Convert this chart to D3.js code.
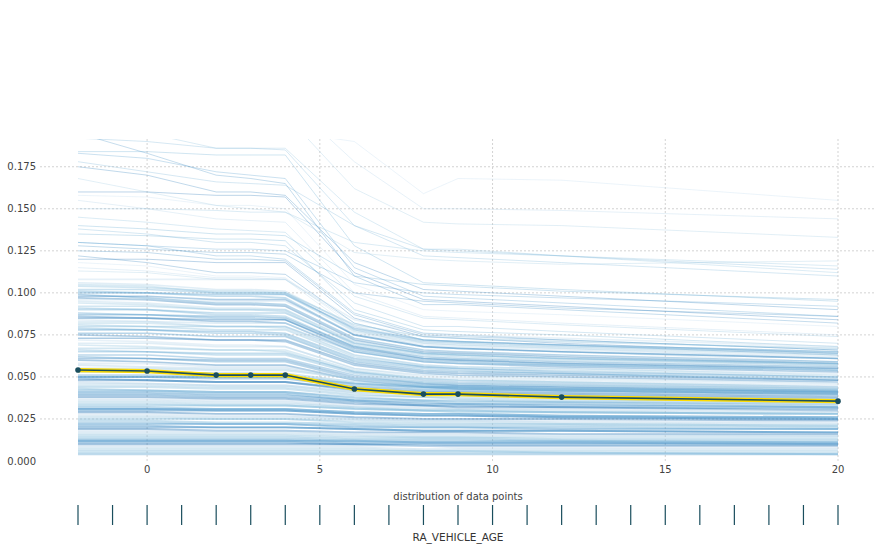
<!DOCTYPE html>
<html>
<head>
<meta charset="utf-8">
<script src="https://cdn.jsdelivr.net/npm/d3@7"></script>
<style>
  body { margin: 0; background: #fff; }
  text { font-family: "DejaVu Sans", sans-serif; }
</style>
</head>
<body>
<svg id="chart" width="890" height="549"></svg>
<script>
// grid points of the feature, and the averaged (PDP) line
var gridX = [-2, 0, 2, 3, 4, 6, 8, 9, 12, 20];
var pdpValues = [0.0541, 0.0535, 0.0511, 0.0511, 0.0511, 0.0428, 0.0398, 0.0398, 0.0380, 0.0356];

// individual ICE lines, one value per grid point (approximate)
var upperLines = [
    [.240,.215,.200,.198,.196,.190,.159,.168,.167,.155],
    [.260,.240,.222,.220,.216,.178,.150,.150,.149,.144],
    [.250,.232,.212,.210,.206,.162,.142,.141,.140,.133],
    [.205,.195,.186,.186,.186,.148,.126,.126,.122,.112],
    [.192,.190,.186,.186,.185,.140,.122,.121,.118,.110],
    [.184,.184,.182,.182,.182,.128,.106,.105,.102,.095],
    [.183,.180,.172,.170,.168,.115,.098,.097,.094,.086],
    [.195,.183,.170,.168,.165,.110,.093,.093,.090,.082],
    [.175,.170,.160,.160,.158,.118,.102,.101,.098,.090],
    [.160,.160,.158,.158,.157,.112,.096,.095,.092,.084],
    [.158,.157,.152,.152,.150,.105,.090,.089,.087,.080],
    [.155,.150,.144,.143,.142,.100,.086,.085,.082,.075],
    [.168,.160,.152,.150,.148,.124,.120,.119,.117,.119],
    [.145,.142,.138,.137,.136,.098,.085,.084,.081,.074],
    [.138,.135,.130,.130,.128,.094,.080,.080,.077,.070],
    [.135,.134,.132,.132,.131,.090,.078,.077,.075,.068],
    [.130,.128,.122,.122,.120,.088,.076,.075,.072,.066],
    [.125,.124,.120,.120,.119,.087,.075,.074,.072,.066],
    [.122,.118,.112,.112,.111,.082,.072,.071,.069,.063],
    [.120,.120,.118,.118,.118,.085,.074,.073,.070,.064],
    [.118,.116,.110,.110,.109,.080,.070,.069,.067,.061],
    [.115,.113,.109,.109,.108,.078,.068,.067,.065,.059],
    [.113,.112,.108,.108,.108,.082,.072,.071,.069,.064],
    [.150,.150,.149,.148,.148,.130,.125,.124,.122,.116],
    [.178,.172,.166,.165,.164,.140,.126,.125,.122,.114],
    [.140,.138,.135,.135,.134,.110,.105,.104,.101,.096],
    [.130,.128,.126,.126,.125,.106,.100,.099,.097,.092],
    [.128,.126,.124,.124,.123,.100,.095,.094,.091,.086]
];

var middleLines = [
    [.108,.108,.108,.108,.108,.084,.076,.075,.073,.068],
    [.106,.105,.102,.102,.101,.080,.072,.071,.069,.065],
    [.105,.104,.100,.100,.099,.077,.070,.069,.067,.063],
    [.104,.103,.101,.101,.100,.081,.074,.073,.071,.067],
    [.102,.102,.100,.100,.100,.078,.071,.070,.068,.064],
    [.101,.100,.098,.098,.097,.075,.068,.067,.065,.061],
    [.100,.100,.099,.099,.099,.079,.072,.071,.069,.065],
    [.099,.097,.094,.094,.093,.073,.066,.065,.063,.059],
    [.098,.098,.096,.096,.096,.075,.068,.067,.065,.061],
    [.097,.096,.093,.093,.092,.072,.065,.064,.062,.058],
    [.096,.096,.095,.095,.095,.076,.069,.068,.066,.062],
    [.095,.094,.091,.091,.090,.070,.064,.063,.061,.057],
    [.094,.093,.090,.090,.090,.071,.064,.063,.061,.058],
    [.092,.092,.090,.090,.089,.069,.063,.062,.060,.057],
    [.091,.090,.087,.087,.086,.068,.061,.060,.058,.055],
    [.090,.090,.088,.088,.088,.070,.064,.063,.061,.058],
    [.088,.087,.085,.085,.084,.066,.060,.059,.057,.054],
    [.087,.087,.086,.086,.085,.068,.062,.061,.059,.056],
    [.086,.085,.083,.083,.082,.065,.059,.058,.056,.053],
    [.085,.085,.084,.084,.084,.067,.061,.060,.058,.055],
    [.084,.083,.080,.080,.080,.063,.057,.056,.055,.052],
    [.083,.083,.082,.082,.082,.066,.060,.059,.057,.054],
    [.082,.082,.080,.080,.079,.063,.057,.056,.055,.051],
    [.081,.080,.078,.078,.078,.062,.056,.055,.054,.050],
    [.080,.080,.080,.080,.080,.065,.059,.058,.057,.054],
    [.079,.078,.076,.076,.075,.060,.055,.054,.052,.049],
    [.078,.078,.077,.077,.076,.061,.056,.055,.053,.050],
    [.076,.076,.074,.074,.074,.059,.054,.053,.052,.048],
    [.075,.074,.072,.072,.071,.057,.052,.051,.050,.047],
    [.073,.073,.072,.072,.072,.058,.053,.052,.051,.048],
    [.072,.071,.069,.069,.068,.055,.050,.049,.048,.045],
    [.070,.070,.068,.068,.068,.055,.051,.050,.049,.046],
    [.069,.068,.066,.066,.066,.054,.049,.048,.047,.044],
    [.067,.067,.066,.066,.065,.053,.049,.048,.047,.044],
    [.066,.065,.063,.063,.063,.052,.047,.046,.045,.042],
    [.065,.065,.064,.064,.064,.053,.048,.047,.046,.043],
    [.063,.063,.061,.061,.061,.051,.046,.045,.044,.041],
    [.062,.061,.059,.059,.059,.049,.045,.044,.043,.041],
    [.061,.061,.060,.060,.060,.050,.046,.045,.044,.042],
    [.060,.059,.057,.057,.057,.048,.044,.043,.042,.040]
];

var lowerLines = [
    [.058,.058,.056,.056,.056,.050,.048,.047,.046,.044],
    [.057,.056,.055,.055,.055,.049,.046,.046,.045,.043],
    [.055,.055,.054,.054,.054,.049,.047,.046,.045,.043],
    [.054,.053,.052,.052,.052,.047,.045,.044,.043,.042],
    [.053,.053,.052,.052,.051,.046,.044,.043,.042,.040],
    [.051,.051,.050,.050,.050,.045,.043,.043,.042,.040],
    [.050,.050,.050,.050,.050,.046,.044,.044,.043,.041],
    [.050,.050,.049,.049,.049,.044,.042,.042,.041,.039],
    [.049,.048,.047,.047,.047,.042,.040,.040,.039,.037],
    [.048,.048,.047,.047,.047,.043,.041,.041,.040,.038],
    [.047,.046,.045,.045,.045,.041,.039,.039,.038,.036],
    [.046,.046,.045,.045,.045,.041,.040,.039,.038,.037],
    [.045,.045,.044,.044,.044,.040,.038,.038,.037,.035],
    [.044,.044,.043,.043,.043,.039,.038,.037,.036,.035],
    [.043,.042,.041,.041,.041,.037,.036,.035,.035,.033],
    [.042,.042,.041,.041,.041,.038,.036,.036,.035,.034],
    [.041,.041,.040,.040,.040,.036,.035,.034,.034,.032],
    [.040,.040,.039,.039,.039,.036,.034,.034,.033,.032],
    [.039,.039,.038,.038,.038,.035,.033,.033,.032,.031],
    [.038,.038,.037,.037,.037,.034,.033,.032,.032,.030],
    [.037,.037,.036,.036,.036,.033,.032,.031,.031,.030],
    [.036,.036,.035,.035,.035,.032,.031,.031,.030,.029],
    [.035,.035,.034,.034,.034,.032,.030,.030,.029,.028],
    [.034,.034,.033,.033,.033,.031,.030,.029,.029,.028],
    [.033,.033,.033,.033,.033,.031,.030,.030,.029,.028],
    [.032,.032,.031,.031,.031,.029,.028,.028,.027,.026],
    [.031,.031,.031,.031,.031,.029,.028,.028,.027,.026],
    [.031,.031,.030,.030,.030,.028,.027,.027,.026,.025],
    [.030,.030,.030,.030,.030,.028,.027,.027,.026,.025],
    [.029,.029,.028,.028,.028,.026,.025,.025,.025,.024],
    [.028,.028,.027,.027,.027,.025,.024,.024,.024,.023],
    [.027,.027,.026,.026,.026,.025,.024,.024,.023,.022],
    [.026,.026,.025,.025,.025,.024,.023,.023,.022,.021],
    [.025,.025,.025,.025,.025,.023,.022,.022,.022,.021],
    [.024,.024,.023,.023,.023,.022,.021,.021,.021,.020],
    [.023,.023,.022,.022,.022,.021,.020,.020,.020,.019],
    [.022,.022,.022,.022,.022,.020,.020,.020,.019,.019],
    [.021,.021,.020,.020,.020,.019,.018,.018,.018,.017],
    [.020,.020,.020,.020,.020,.019,.018,.018,.018,.017],
    [.019,.019,.018,.018,.018,.017,.017,.017,.016,.016],
    [.018,.018,.018,.018,.018,.017,.016,.016,.016,.015],
    [.017,.017,.017,.017,.017,.016,.015,.015,.015,.015],
    [.016,.016,.016,.016,.016,.015,.014,.014,.014,.014],
    [.015,.015,.015,.015,.015,.014,.014,.014,.013,.013],
    [.014,.014,.014,.014,.014,.013,.013,.013,.012,.012],
    [.013,.013,.013,.013,.013,.012,.012,.012,.012,.011],
    [.012,.012,.012,.012,.012,.012,.011,.011,.011,.011],
    [.012,.012,.012,.012,.012,.011,.011,.011,.011,.010],
    [.011,.011,.011,.011,.011,.010,.010,.010,.010,.010],
    [.010,.010,.010,.010,.010,.010,.009,.009,.009,.009],
    [.009,.009,.009,.009,.009,.009,.009,.008,.008,.008],
    [.008,.008,.008,.008,.008,.008,.007,.007,.007,.007],
    [.007,.007,.007,.007,.007,.007,.006,.006,.006,.006],
    [.006,.006,.006,.006,.006,.006,.006,.006,.005,.005],
    [.005,.005,.005,.005,.005,.005,.005,.005,.005,.004],
    [.004,.004,.004,.004,.004,.004,.004,.004,.004,.004]
];

var rugValues = [-2, -1, 0, 1, 2, 3, 4, 5, 6, 7, 8, 9, 10, 11, 12, 13, 14, 15, 16, 17, 18, 19, 20];
var xTickValues = [0, 5, 10, 15, 20];
var yTickValues = [0, 0.025, 0.05, 0.075, 0.1, 0.125, 0.15, 0.175];
var featureName = 'RA_VEHICLE_AGE';
var rugTitle = 'distribution of data points';

var svg = d3.select('#chart');

var plot = { left: 40, right: 876, top: 139, bottom: 461 };

var x = d3.scaleLinear().domain([-3.1, 21.1]).range([plot.left, plot.right]);
var y = d3.scaleLinear().domain([0, 0.1915]).range([plot.bottom, plot.top]);

var gridColor = '#c8c8c8';
var textColor = '#424242';
var darkColor = '#1A4E5D';

// grid lines (dashed) -- skip the one sitting on the bottom edge
svg.append('g')
    .selectAll('line')
    .data(yTickValues.filter(d => d > 0))
    .join('line')
    .attr('x1', plot.left)
    .attr('x2', plot.right)
    .attr('y1', d => y(d))
    .attr('y2', d => y(d))
    .attr('stroke', gridColor)
    .attr('stroke-width', 0.8)
    .attr('stroke-dasharray', '2,2');

svg.append('g')
    .selectAll('line')
    .data(xTickValues)
    .join('line')
    .attr('x1', d => x(d))
    .attr('x2', d => x(d))
    .attr('y1', plot.top)
    .attr('y2', plot.bottom)
    .attr('stroke', gridColor)
    .attr('stroke-width', 0.8)
    .attr('stroke-dasharray', '2,2');

// tick labels
svg.append('g')
    .selectAll('text')
    .data(yTickValues)
    .join('text')
    .attr('x', 36)
    .attr('y', d => y(d))
    .attr('dy', '0.35em')
    .attr('text-anchor', 'end')
    .attr('font-size', 10)
    .attr('fill', textColor)
    .text(d3.format('.3f'));

svg.append('g')
    .selectAll('text')
    .data(xTickValues)
    .join('text')
    .attr('x', d => x(d))
    .attr('y', 469)
    .attr('dy', '0.35em')
    .attr('text-anchor', 'middle')
    .attr('font-size', 10)
    .attr('fill', textColor)
    .text(d => d);

// ICE lines
svg.append('clipPath')
    .attr('id', 'plot-clip')
    .append('rect')
    .attr('x', plot.left)
    .attr('y', plot.top)
    .attr('width', plot.right - plot.left)
    .attr('height', plot.bottom - plot.top);

var line = d3.line()
    .x((d, i) => x(gridX[i]))
    .y(d => y(d));

var blues = d3.range(10).map(i => d3.interpolateBlues(0.26 + i * 0.053));

var iceGroup = svg.append('g').attr('clip-path', 'url(#plot-clip)');

function drawIce(lines, width, alpha) {
    iceGroup.append('g')
        .selectAll('path')
        .data(lines)
        .join('path')
        .attr('d', line)
        .attr('fill', 'none')
        .attr('stroke', (d, i) => blues[i % 10])
        .attr('stroke-width', width)
        .attr('stroke-opacity', alpha);
}

drawIce(upperLines, 1, 0.3);
drawIce(middleLines, 1.6, 0.38);
drawIce(lowerLines, 1.9, 0.42);

// average line
svg.append('path')
    .attr('d', line(pdpValues))
    .attr('fill', 'none')
    .attr('stroke', '#FEDC00')
    .attr('stroke-width', 4.2)
    .attr('stroke-linejoin', 'round');

svg.append('path')
    .attr('d', line(pdpValues))
    .attr('fill', 'none')
    .attr('stroke', darkColor)
    .attr('stroke-width', 1.6);

svg.append('g')
    .selectAll('circle')
    .data(pdpValues)
    .join('circle')
    .attr('cx', (d, i) => x(gridX[i]))
    .attr('cy', d => y(d))
    .attr('r', 2.8)
    .attr('fill', darkColor);

// data distribution rug
svg.append('text')
    .attr('x', (plot.left + plot.right) / 2)
    .attr('y', 496)
    .attr('dy', '0.35em')
    .attr('text-anchor', 'middle')
    .attr('font-size', 10)
    .attr('fill', textColor)
    .text(rugTitle);

svg.append('g')
    .selectAll('line')
    .data(rugValues)
    .join('line')
    .attr('x1', d => x(d))
    .attr('x2', d => x(d))
    .attr('y1', 505)
    .attr('y2', 525)
    .attr('stroke', darkColor)
    .attr('stroke-width', 1.2);

svg.append('text')
    .attr('x', (plot.left + plot.right) / 2)
    .attr('y', 537)
    .attr('dy', '0.35em')
    .attr('text-anchor', 'middle')
    .attr('font-size', 10.5)
    .attr('fill', '#333')
    .text(featureName);
</script>
</body>
</html>
